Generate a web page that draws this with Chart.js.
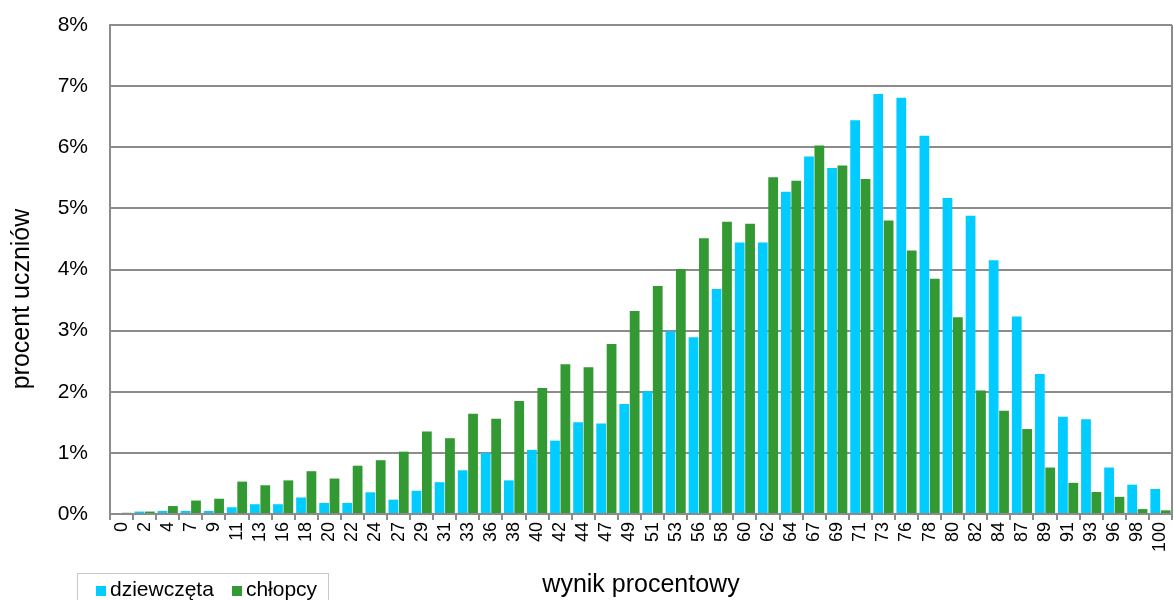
<!DOCTYPE html>
<html>
<head>
<meta charset="utf-8">
<script src="https://cdn.jsdelivr.net/npm/chart.js@4"></script>
<style>
  html, body { margin: 0; padding: 0; background: #fff; }
  #wrap { position: relative; width: 1174px; height: 600px; overflow: hidden; }
  #legend {
    position: absolute; left: 77px; top: 573px; width: 252px; height: 40px;
    border: 1px solid #c8c8c8; box-sizing: border-box;
    font-family: "Liberation Sans", Arial, sans-serif; font-size: 21px; color: #000;
    padding: 3px 0 0 18px; white-space: nowrap;
  }
  #legend span.item { margin-right: 18px; }
  #legend span.sw { display: inline-block; width: 10px; height: 10px; margin-right: 4px; }
</style>
</head>
<body>
<div id="wrap">
  <canvas id="chart" width="1174" height="600"></canvas>
  <div id="legend"></div>
</div>
<script>
var categories = ['0','2','4','7','9','11','13','16','18','20','22','24','27','29','31','33','36','38','40','42',
                  '44','47','49','51','53','56','58','60','62','64','67','69','71','73','76','78','80','82','84','87',
                  '89','91','93','96','98','100'];

// percent of students
var girls = [0.00, 0.04, 0.05, 0.05, 0.05, 0.11, 0.16, 0.16, 0.27, 0.18, 0.18, 0.355, 0.235, 0.38, 0.52, 0.715, 1.00, 0.55, 1.05, 1.20,
             1.50, 1.48, 1.80, 2.01, 2.99, 2.89, 3.68, 4.44, 4.44, 5.27, 5.85, 5.66, 6.44, 6.87, 6.81, 6.19, 5.17, 4.88, 4.15, 3.23,
             2.29, 1.59, 1.55, 0.76, 0.48, 0.41];
var boys  = [0.02, 0.04, 0.13, 0.22, 0.25, 0.53, 0.47, 0.55, 0.70, 0.58, 0.79, 0.88, 1.02, 1.35, 1.24, 1.64, 1.56, 1.85, 2.06, 2.45,
             2.40, 2.78, 3.32, 3.73, 4.01, 4.51, 4.78, 4.75, 5.51, 5.45, 6.03, 5.70, 5.48, 4.80, 4.31, 3.85, 3.22, 2.02, 1.69, 1.39,
             0.76, 0.51, 0.36, 0.28, 0.08, 0.06];

var seriesNames = ['dziewczęta', 'chłopcy'];
var seriesColors = ['#00CCFF', '#339933'];
var yTitle = 'procent uczniów';

var FONT = '"Liberation Sans", Arial, sans-serif';
var GRID = '#8c8c8c';

// right border of the plot + y title (placed a bit lower than the plot centre, like the original)
var frame = {
  id: 'frame',
  afterDraw: function(chart) {
    var a = chart.chartArea, c = chart.ctx;
    c.save();
    c.strokeStyle = GRID;
    c.lineWidth = 2;
    c.beginPath();
    c.moveTo(a.right, a.top);
    c.lineTo(a.right, a.bottom);
    c.stroke();
    c.translate(22, 299);
    c.rotate(-Math.PI / 2);
    c.fillStyle = '#000';
    c.font = '25px ' + FONT;
    c.textAlign = 'center';
    c.textBaseline = 'middle';
    c.fillText(yTitle, 0, 0);
    c.restore();
  }
};

var chart = new Chart(document.getElementById('chart').getContext('2d'), {
  type: 'bar',
  data: {
    labels: categories,
    datasets: [
      { label: seriesNames[0], data: girls, backgroundColor: seriesColors[0] },
      { label: seriesNames[1], data: boys, backgroundColor: seriesColors[1] }
    ]
  },
  options: {
    responsive: false,
    animation: false,
    datasets: { bar: { categoryPercentage: 0.9, barPercentage: 0.94 } },
    layout: { padding: { left: 8, top: 25, right: 2, bottom: 0 } },
    plugins: {
      legend: { display: false },
      tooltip: { enabled: false }
    },
    scales: {
      x: {
        grid: { display: true, drawOnChartArea: false, color: GRID, lineWidth: 2, tickLength: 6, offset: true },
        border: { color: GRID, width: 2 },
        ticks: {
          autoSkip: false, minRotation: 90, maxRotation: 90, padding: 2,
          color: '#000', font: { family: FONT, size: 18 }
        },
        title: { display: true, text: 'wynik procentowy', color: '#000', font: { family: FONT, size: 25 }, padding: { top: 4, bottom: 0 } },
        afterFit: function(s) { s.height = 86; s.paddingRight = 0; s.paddingLeft = 0; }
      },
      y: {
        min: 0, max: 8,
        grid: { color: GRID, lineWidth: 2, drawTicks: false },
        border: { color: GRID, width: 2 },
        ticks: {
          stepSize: 1, padding: 22, color: '#000', font: { family: FONT, size: 21 },
          callback: function(v) { return v + '%'; }
        },
        afterFit: function(s) { s.width = 102; s.paddingTop = 0; s.paddingBottom = 0; }
      }
    }
  },
  plugins: [frame]
});

var lg = document.getElementById('legend');
chart.data.datasets.forEach(function(ds) {
  var item = document.createElement('span');
  item.className = 'item';
  var sw = document.createElement('span');
  sw.className = 'sw';
  sw.style.background = ds.backgroundColor;
  item.appendChild(sw);
  item.appendChild(document.createTextNode(ds.label));
  lg.appendChild(item);
});
</script>
</body>
</html>
